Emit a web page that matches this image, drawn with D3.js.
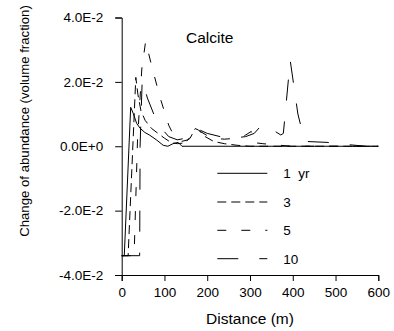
<!DOCTYPE html>
<html><head><meta charset="utf-8">
<script src="https://cdn.jsdelivr.net/npm/d3@7"></script>
<style>body{margin:0;background:#fff}svg{display:block}text{font-family:"Liberation Sans",Arial,sans-serif;fill:#000}</style>
</head><body><svg id="c" width="394" height="331"></svg>
<script>
const seriesNames = ["1  yr", "3", "5", "10"];
const dist1 = [0, 6, 21, 27, 35, 43, 54, 66, 82, 97, 108, 120, 132, 141, 600];
const val1 = [-0.034, -0.034, 0.0121, 0.0102, 0.0071, 0.0056, 0.0043, 0.0034, 0.0019, 0.0003, 0, 0.0008, 0.0012, 0, 0];
const dist3 = [0, 15, 33, 38, 45, 55, 70, 85, 100, 115, 130, 145, 160, 172, 180, 195, 215, 240, 270, 300, 600];
const val3 = [-0.034, -0.034, 0.0214, 0.016, 0.011, 0.008, 0.0055, 0.004, 0.0025, 0.0012, 0.0008, 0.001, 0.0025, 0.0055, 0.005, 0.003, 0.0015, 0.0008, 0.0003, 0, 0];
const dist5 = [0, 29, 37, 47, 56, 70, 90, 110, 125, 140, 155, 168, 175, 185, 210, 240, 270, 290, 303, 305, 330, 370, 400, 600];
const val5 = [-0.034, -0.034, 0.002, 0.024, 0.0326, 0.025, 0.015, 0.0065, 0.0025, 0.0015, 0.002, 0.0045, 0.0055, 0.0045, 0.0025, 0.0022, 0.0025, 0.0035, 0.0046, 0.0012, 0.0008, 0.0003, 0, 0];
const dist10 = [0, 42, 43, 48, 60, 75, 90, 110, 130, 150, 170, 180, 200, 230, 260, 290, 310, 330, 372, 378, 394, 412, 428, 480, 520, 555, 570, 600];
const val10 = [-0.034, -0.034, 0, 0.0208, 0.015, 0.01, 0.006, 0.003, 0.002, 0.0025, 0.005, 0.0052, 0.004, 0.003, 0.0025, 0.003, 0.004, 0.007, 0.0035, 0.004, 0.0267, 0.01, 0.0015, 0.0012, 0.0006, 0.0002, 0, 0];
const xTicks = [0, 100, 200, 300, 400, 500, 600];
const yTicks = [-0.04, -0.02, 0, 0.02, 0.04];
const yTickLabels = ["-4.0E-2", "-2.0E-2", "0.0E+0", "2.0E-2", "4.0E-2"];

const svg = d3.select("#c");
const x = d3.scaleLinear().domain([0, 600]).range([121.7, 378.3]);
const y = d3.scaleLinear().domain([-0.04, 0.04]).range([275, 17.5]);

const series = [
  {name: seriesNames[0], d: dist1, v: val1, dash: null},
  {name: seriesNames[1], d: dist3, v: val3, dash: "9,5"},
  {name: seriesNames[2], d: dist5, v: val5, dash: "9,15"},
  {name: seriesNames[3], d: dist10, v: val10, dash: "21,21"}
];

const line = d3.line().x(p => x(p[0])).y(p => y(p[1]));
series.forEach(s => {
  svg.append("path").datum(s.d.map((d, i) => [d, s.v[i]]))
    .attr("d", line).attr("fill", "none").attr("stroke", "#000")
    .attr("stroke-width", 1).attr("stroke-dasharray", s.dash);
});

// axes
const gx = svg.append("g").attr("transform", "translate(0,275)");
gx.call(d3.axisBottom(x).tickValues(d3.range(0, 601, 50)).tickSize(5).tickFormat(""));
gx.call(d3.axisBottom(x).tickValues(xTicks).tickSize(6).tickPadding(6).tickFormat(d => d));
gx.selectAll(".domain").attr("stroke", "#000");
gx.selectAll("line").attr("stroke", "#000");
gx.selectAll("text").attr("font-size", "13.5px").attr("font-family", "Liberation Sans, Arial");

const gy = svg.append("g").attr("transform", "translate(121.7,0)");
gy.call(d3.axisLeft(y).tickValues(d3.range(-4, 5).map(k => k / 100)).tickSize(3.5).tickFormat(""));
gy.call(d3.axisLeft(y).tickValues(yTicks).tickSize(6.5).tickPadding(12).tickFormat((d, i) => yTickLabels[i]));
gy.selectAll(".domain").attr("stroke", "#000");
gy.selectAll("line").attr("stroke", "#000");
gy.selectAll("text").attr("font-size", "13.5px").attr("font-family", "Liberation Sans, Arial");

svg.append("text").attr("x", 250).attr("y", 324).attr("text-anchor", "middle")
  .attr("font-size", "15.5px").text("Distance (m)");
svg.append("text").attr("transform", "translate(29,121) rotate(-90)").attr("text-anchor", "middle")
  .attr("font-size", "13.2px").text("Change of abundance (volume fraction)");
svg.append("text").attr("x", 186).attr("y", 43).attr("font-size", "15.5px").text("Calcite");

// legend
const legY = [173.3, 202, 230.3, 258.7];
series.forEach((s, i) => {
  svg.append("line").attr("x1", 217.3).attr("x2", 267.3).attr("y1", legY[i]).attr("y2", legY[i])
    .attr("stroke", "#000").attr("stroke-width", 1).attr("stroke-dasharray", s.dash);
  svg.append("text").attr("x", 283.3).attr("y", legY[i] + 5).attr("font-size", "13.5px")
    .style("white-space", "pre").text(s.name);
});
</script></body></html>
